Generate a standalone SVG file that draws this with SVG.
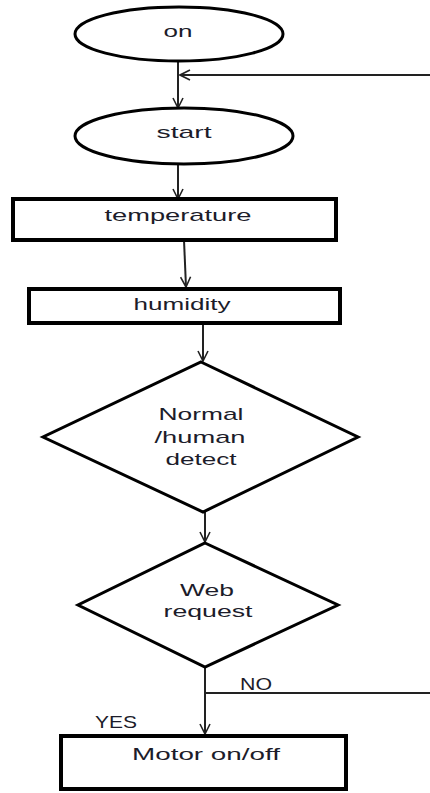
<svg xmlns="http://www.w3.org/2000/svg" width="430" height="793" viewBox="0 0 430 793">
<style>
.shape{fill:#fff;stroke:#000;stroke-width:3}
.box{fill:#fff;stroke:#000;stroke-width:4}
.lbl{font-family:"Liberation Sans",Arial,sans-serif;font-size:17px;fill:#1c1c2a;text-anchor:middle}
.con{fill:none;stroke:#222;stroke-width:2}
</style>
<defs>
<marker id="arr" viewBox="0 0 12 12" refX="11" refY="6" markerWidth="12" markerHeight="12" markerUnits="userSpaceOnUse" orient="auto">
<path d="M1,1 L11,6 L1,11" fill="none" stroke="#222" stroke-width="1.6"/>
</marker>
</defs>
<rect width="430" height="793" fill="#fff"/>
<g id="connectors">
<line class="con" x1="178" y1="62" x2="178" y2="108" marker-end="url(#arr)"/>
<line class="con" x1="430" y1="75" x2="180" y2="75" marker-end="url(#arr)"/>
<line class="con" x1="178" y1="165" x2="178" y2="199" marker-end="url(#arr)"/>
<line class="con" x1="184" y1="240" x2="186" y2="287" marker-end="url(#arr)"/>
<line class="con" x1="203" y1="323" x2="203" y2="361" marker-end="url(#arr)"/>
<line class="con" x1="205" y1="512" x2="205" y2="542" marker-end="url(#arr)"/>
<line class="con" x1="205" y1="667" x2="205" y2="734" marker-end="url(#arr)"/>
<line class="con" x1="205" y1="693" x2="430" y2="693"/>
<text class="lbl" x="256" y="690" textLength="32" lengthAdjust="spacingAndGlyphs">NO</text>
<text class="lbl" x="116" y="728" textLength="42" lengthAdjust="spacingAndGlyphs">YES</text>
</g>
<g id="on">
<ellipse class="shape" cx="179" cy="34" rx="104" ry="27"/>
<text class="lbl" x="178" y="37" textLength="29" lengthAdjust="spacingAndGlyphs">on</text>
</g>
<g id="start">
<ellipse class="shape" cx="184" cy="136" rx="109" ry="28"/>
<text class="lbl" x="184" y="138" textLength="55" lengthAdjust="spacingAndGlyphs">start</text>
</g>
<g id="temperature">
<rect class="box" x="13" y="199" width="323" height="41"/>
<text class="lbl" x="178" y="221" textLength="147" lengthAdjust="spacingAndGlyphs">temperature</text>
</g>
<g id="humidity">
<rect class="box" x="29" y="289" width="311" height="34"/>
<text class="lbl" x="182" y="310" textLength="97" lengthAdjust="spacingAndGlyphs">humidity</text>
</g>
<g id="normal">
<polygon class="shape" points="201,362 358,437 203,512 43,437"/>
<text class="lbl" x="201" y="420" textLength="85" lengthAdjust="spacingAndGlyphs">Normal</text>
<text class="lbl" x="200" y="443" textLength="91" lengthAdjust="spacingAndGlyphs">/human</text>
<text class="lbl" x="201" y="465" textLength="71" lengthAdjust="spacingAndGlyphs">detect</text>
</g>
<g id="web">
<polygon class="shape" points="205,543 338,605 205,667 78,605"/>
<text class="lbl" x="207" y="596" textLength="54" lengthAdjust="spacingAndGlyphs">Web</text>
<text class="lbl" x="208" y="617" textLength="89" lengthAdjust="spacingAndGlyphs">request</text>
</g>
<g id="motor">
<rect class="box" x="61" y="736" width="285" height="53"/>
<text class="lbl" x="206" y="760" textLength="148" lengthAdjust="spacingAndGlyphs">Motor on/off</text>
</g>
</svg>
